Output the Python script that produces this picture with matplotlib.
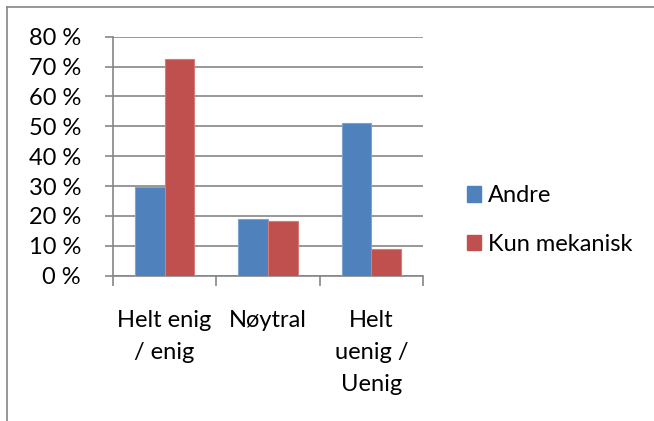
import matplotlib
matplotlib.use("Agg")
import matplotlib.pyplot as plt
from matplotlib.lines import Line2D
from matplotlib.patches import Patch
from matplotlib.ticker import FixedLocator, FuncFormatter
import numpy as np

categories = ["Helt enig\n/ enig", "Nøytral", "Helt\nuenig /\nUenig"]
series_names = ["Andre", "Kun mekanisk"]
andre = [29.8, 19.0, 51.2]
kun_mekanisk = [72.7, 18.2, 9.0]
y_ticks = [0, 10, 20, 30, 40, 50, 60, 70, 80]

colors = ["#4F81BD", "#C0504D"]
edge_colors = ["#7EA1CF", "#D47C79"]
grid_color = "#868686"

plt.rcParams["font.family"] = ["Lato", "DejaVu Sans"]
FS = 17

fig = plt.figure(figsize=(6.54, 4.21), dpi=100)
ax = fig.add_axes([0.1728, 0.3451, 0.6468 - 0.1728, 0.9128 - 0.3451])

x = np.arange(len(categories))
width = 0.286
for i, (vals, name) in enumerate(zip([andre, kun_mekanisk], series_names)):
    ax.bar(x + (i - 0.5) * width, vals, width, color=colors[i],
           edgecolor=edge_colors[i], linewidth=0.8, label=name, zorder=3)

ax.set_xlim(-0.5, len(categories) - 0.5)
ax.set_ylim(0, 80)
ax.yaxis.set_major_locator(FixedLocator(y_ticks))
ax.yaxis.set_major_formatter(FuncFormatter(lambda v, p: f"{int(v)} %"))
ax.grid(axis="y", color=grid_color, linewidth=1.2, zorder=0)

for s in ["top", "right"]:
    ax.spines[s].set_visible(False)
for s in ["left", "bottom"]:
    ax.spines[s].set_color(grid_color)
    ax.spines[s].set_linewidth(1.2)

ax.tick_params(axis="y", length=6, width=1.2, color=grid_color, pad=17,
               labelsize=FS, labelcolor="black")

# category boundaries carry the tick marks, labels sit at the centres
ax.set_xticks(np.arange(len(categories) + 1) - 0.5)
ax.set_xticklabels([])
ax.tick_params(axis="x", length=7, width=1.2, color=grid_color)
ax.set_xticks(x, minor=True)
ax.set_xticklabels(categories, minor=True, fontsize=FS, linespacing=1.62,
                   va="top")
ax.tick_params(axis="x", which="minor", length=0, pad=25)

handles = [Patch(facecolor=c, edgecolor=c) for c in colors]
fig.legend(handles, series_names, loc="center left",
           bbox_to_anchor=(0.699, 1 - 220 / 421), frameon=False,
           fontsize=FS, handlelength=0.62, handleheight=0.62,
           handletextpad=0.3, labelspacing=1.15, borderaxespad=0)

# chart frame lines along the top and left edges
fig.add_artist(Line2D([6.5 / 654, 1], [1 - 6.5 / 421, 1 - 6.5 / 421],
                      transform=fig.transFigure, color=grid_color, lw=1.2))
fig.add_artist(Line2D([6.5 / 654, 6.5 / 654], [0, 1 - 6.5 / 421],
                      transform=fig.transFigure, color=grid_color, lw=1.2))

fig.savefig("out.png", dpi=100)
